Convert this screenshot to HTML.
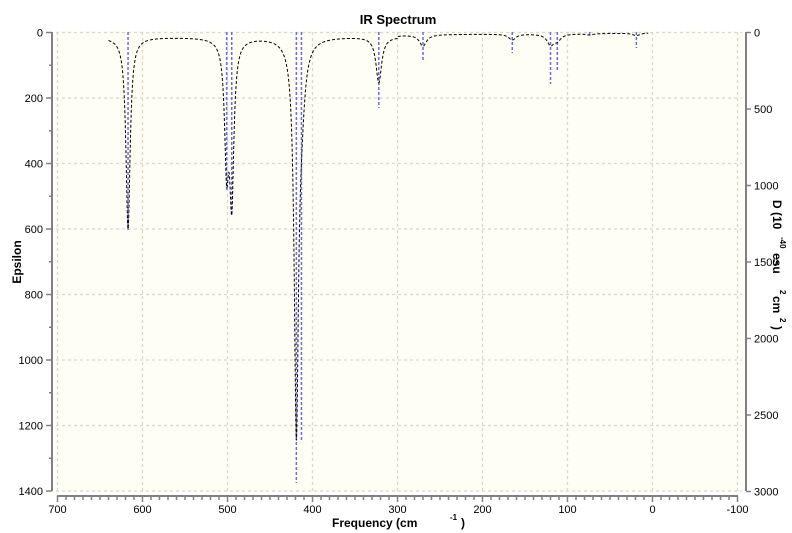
<!DOCTYPE html>
<html><head><meta charset="utf-8"><style>
body{margin:0;background:#fff;}
svg{display:block;font-family:"Liberation Sans",sans-serif;}
</style></head><body>
<svg id="s" width="792" height="533" xmlns="http://www.w3.org/2000/svg">
<rect x="0" y="0" width="792" height="533" fill="#fff"/>
<rect x="55" y="31" width="688" height="462" fill="#fefef4"/>
<g id="grid" stroke="#d8d8d0" stroke-width="1.3" stroke-dasharray="3,3"></g>
<g id="sticks" stroke="#6a6ae8" stroke-width="1.5" stroke-dasharray="3,2"></g>
<path id="curve" fill="none" stroke="#000" stroke-width="1" stroke-dasharray="3,2"/>
<g id="axes" stroke="#808080" stroke-width="2" fill="none"></g>
<g id="labels" font-size="11" fill="#000"></g>
<text x="398" y="24" font-size="13" font-weight="bold" text-anchor="middle">IR Spectrum</text>
<text x="332" y="527" font-size="12" font-weight="bold">Frequency (cm</text>
<text x="450" y="520" font-size="8" font-weight="bold">-1</text>
<text x="461" y="527" font-size="12" font-weight="bold">)</text>
<text transform="translate(21,262) rotate(-90)" font-size="12" font-weight="bold" text-anchor="middle">Epsilon</text>
<g font-weight="bold">
<text transform="translate(773,200) rotate(90)" font-size="12">D (10</text>
<text transform="translate(780,237) rotate(90)" font-size="8">-40</text>
<text transform="translate(773,253) rotate(90)" font-size="12">esu</text>
<text transform="translate(780,290) rotate(90)" font-size="8">2</text>
<text transform="translate(773,296) rotate(90)" font-size="12">cm</text>
<text transform="translate(780,318) rotate(90)" font-size="8">2</text>
<text transform="translate(773,326) rotate(90)" font-size="12">)</text>
</g>
</svg>
<script>
const NS="http://www.w3.org/2000/svg";
function X(f){return 57.5+(700-f)*0.85;}
function Y(e){return 32.5+e*0.3275;}
function el(p,t,a,txt){const e=document.createElementNS(NS,t);for(const k in a)e.setAttribute(k,a[k]);if(txt!==undefined)e.textContent=txt;document.getElementById(p).appendChild(e);}
for(let f=700;f>=-100;f-=100){el("grid","line",{x1:X(f),x2:X(f),y1:32,y2:491});}
for(let e=0;e<=1400;e+=200){el("grid","line",{x1:56,x2:742,y1:Y(e),y2:Y(e)});}
el("axes","line",{x1:52,x2:52,y1:32,y2:491});
el("axes","line",{x1:746,x2:746,y1:32,y2:491});
el("axes","line",{x1:57,x2:738,y1:496,y2:496});
for(let f=700;f>=-100;f-=10){const big=f%100==0;el("axes","line",{x1:X(f),x2:X(f),y1:496,y2:big?502:500,"stroke-width":1.5});}
for(let e=0;e<=1400;e+=100){const big=e%200==0;el("axes","line",{x1:big?46:49,x2:52,y1:Y(e),y2:Y(e),"stroke-width":1.5});
 if(big)el("labels","text",{x:43,y:Y(e)+4,"text-anchor":"end"},e);}
for(let d=0;d<=3000;d+=500){const y=32.5+d*0.153;el("axes","line",{x1:746,x2:751,y1:y,y2:y,"stroke-width":1.5});el("labels","text",{x:754,y:y+4},d);}
for(let f=700;f>=-100;f-=100){el("labels","text",{x:X(f),y:513,"text-anchor":"middle"},f);}
const st=[[617,230],[501,190],[495,215],[419,483],[413,440],[322,108],[270,60],[165,53],[120,84],[112,70],[74,36],[19,48]];
st.forEach(s=>el("sticks","line",{x1:X(s[0]),x2:X(s[0]),y1:32,y2:s[1]}));
const pk=[[617,585,3],[501,361,3],[495,468,3],[419,1170,3],[413,150,5],[322,140,4],[270,35,5],[165,18,5],[120,32,5],[112,18,5],[74,4,5],[19,8,5]];
let d="";
for(let f=640;f>=5;f-=0.25){let e=0;pk.forEach(p=>{e+=p[1]*p[2]*p[2]/((f-p[0])*(f-p[0])+p[2]*p[2]);});
 e+=8*(f/640)**0.5+(f>300?6:0);
 d+=(d?"L":"M")+X(f).toFixed(2)+","+Y(e).toFixed(2);}
document.getElementById("curve").setAttribute("d",d);
</script>
</body></html>
